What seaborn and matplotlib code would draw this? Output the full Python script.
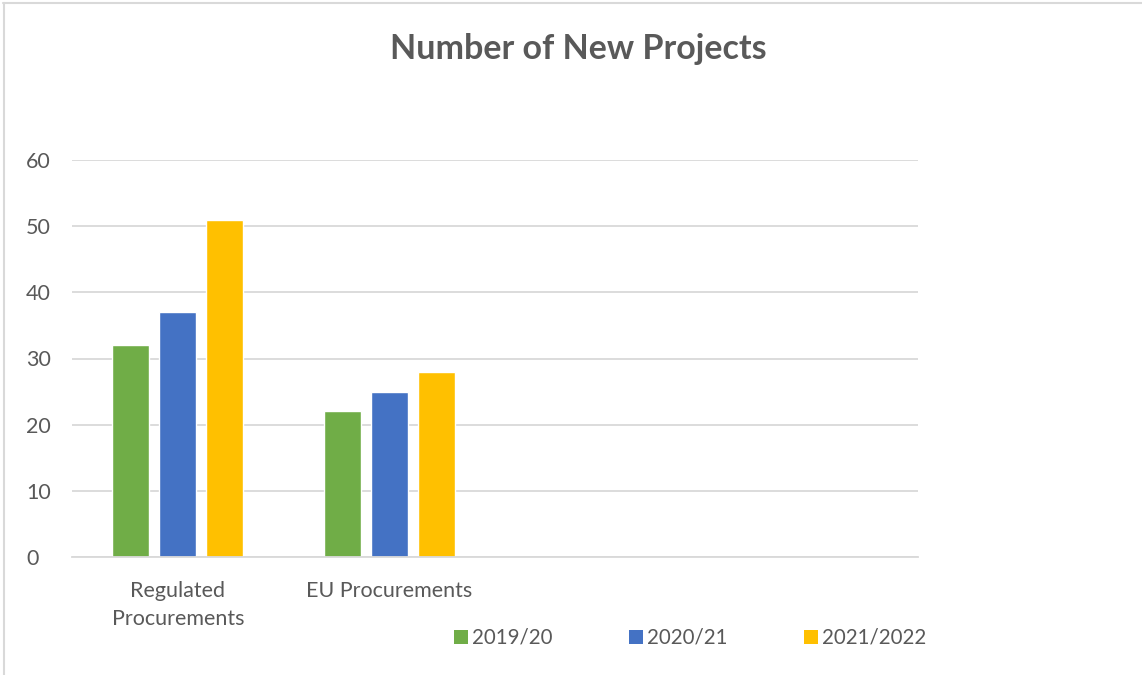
import matplotlib
matplotlib.use("Agg")
import matplotlib.pyplot as plt
import seaborn as sns
import pandas as pd
from matplotlib.lines import Line2D
from matplotlib.patches import Patch

categories = ["Regulated\nProcurements", "EU Procurements"]
empty_slots = [" ", "  "]
series = ["2019/20", "2020/21", "2021/2022"]
values_2019 = [32, 22]
values_2020 = [37, 25]
values_2021 = [51, 28]
colors = ["#70AD47", "#4472C4", "#FFC000"]

rows = []
for s, vals in zip(series, [values_2019, values_2020, values_2021]):
    for c, v in zip(categories, vals):
        rows.append({"category": c, "series": s, "value": v})
df = pd.DataFrame(rows)

sns.set_theme(style="white")
plt.rcParams["font.family"] = ["Lato", "DejaVu Sans"]
text_color = "#595959"

fig = plt.figure(figsize=(11.42, 6.75), dpi=100)
ax = fig.add_axes([72/1142, 1-557/675, (918-72)/1142, (557-160)/675])

sns.barplot(data=df, x="category", y="value", hue="series",
            order=categories + empty_slots, hue_order=series,
            palette=colors, width=0.667, gap=0.21, ax=ax, legend=False,
            saturation=1)

ax.set_ylim(0, 60)
ax.set_yticks(range(0, 61, 10))
ax.yaxis.grid(True, color="#D9D9D9", linewidth=1.3)
ax.set_axisbelow(True)
for sp in ["top", "right", "left"]:
    ax.spines[sp].set_visible(False)
ax.spines["bottom"].set_color("#D9D9D9")
ax.spines["bottom"].set_linewidth(1.3)
ax.set_xlabel("")
ax.set_ylabel("")
ax.tick_params(axis="both", length=0, labelsize=15.5, colors=text_color)
ax.tick_params(axis="x", pad=17)
ax.tick_params(axis="y", pad=33)
for lbl in ax.get_yticklabels():
    lbl.set_horizontalalignment("left")
for lbl in ax.get_xticklabels():
    lbl.set_linespacing(1.55)
ax.set_xlim(-0.5, 3.5)

fig.text(578/1142, 1-49/675, "Number of New Projects", ha="center", va="center",
         fontsize=24.5, fontweight="bold", color=text_color)

handles = [Patch(facecolor=c, edgecolor="none") for c in colors]
fig.legend(handles, series, loc="center", bbox_to_anchor=(690/1142, 1-638/675),
           ncol=3, frameon=False, fontsize=14.8, labelcolor=text_color,
           handlelength=0.7, handleheight=0.7, handletextpad=0.2,
           columnspacing=3.7)

fig.add_artist(Line2D([3/1142, 1], [1-3/675, 1-3/675], color="#D9D9D9", linewidth=1.5))
fig.add_artist(Line2D([4/1142, 4/1142], [0, 1-3/675], color="#D9D9D9", linewidth=1.5))

fig.savefig("out.png", dpi=100)
